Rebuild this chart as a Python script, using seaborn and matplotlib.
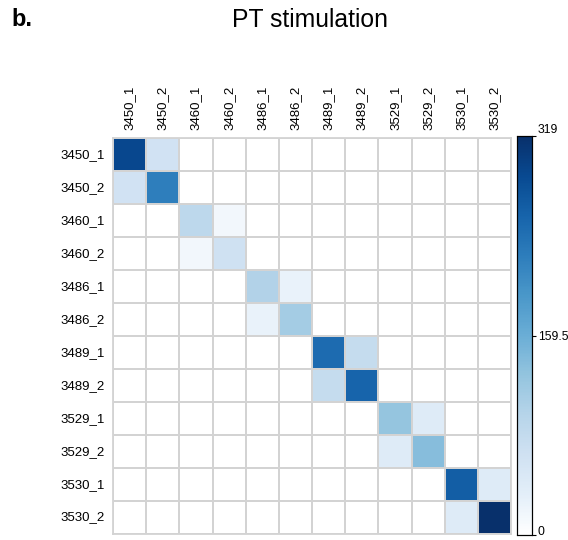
import numpy as np
import pandas as pd
import matplotlib
matplotlib.use("Agg")
import matplotlib.pyplot as plt
import matplotlib.transforms as mtransforms
from matplotlib.colors import LinearSegmentedColormap
import seaborn as sns

# === Data ===
samples = ["3450_1", "3450_2", "3460_1", "3460_2", "3486_1", "3486_2",
           "3489_1", "3489_2", "3529_1", "3529_2", "3530_1", "3530_2"]
# diagonal (self) values and replicate-pair overlap values
diag_values = [290, 222, 88, 66, 100, 113, 246, 255, 126, 138, 262, 319]
pair_values = [62, 16, 26, 78, 42, 42]
vmax = 319

n = len(samples)
mat = np.zeros((n, n))
for i in range(n):
    mat[i, i] = diag_values[i]
for k, v in enumerate(pair_values):
    mat[2 * k, 2 * k + 1] = v
    mat[2 * k + 1, 2 * k] = v
df = pd.DataFrame(mat, index=samples, columns=samples)

# white -> Blues
blues = plt.get_cmap("Blues")
cols = ["#ffffff"] + [blues(x) for x in np.linspace(0.1, 1.0, 10)]
cmap = LinearSegmentedColormap.from_list("wblues", cols)

# === Plot ===
sns.set_style("white")
plt.rcParams['font.family'] = ['Liberation Sans', 'DejaVu Sans']
plt.rcParams['text.color'] = 'black'
plt.rcParams['xtick.color'] = 'black'
plt.rcParams['ytick.color'] = 'black'

fig = plt.figure(figsize=(5.68, 5.40), dpi=100)
ax = fig.add_axes([0.199, 0.011, 0.701, 0.733])
cax = fig.add_axes([0.911, 0.009, 0.026, 0.739])

sns.heatmap(df, ax=ax, cbar_ax=cax, cmap=cmap, vmin=0, vmax=vmax,
            linewidths=1.3, linecolor="#d3d3d3", square=False,
            cbar_kws={"ticks": [0, vmax / 2, vmax]})

ax.xaxis.tick_top()
ax.set_xticklabels(samples, rotation=90, fontsize=9.5)
ax.set_yticklabels(samples, rotation=0, fontsize=9.5)
ax.tick_params(axis="both", length=0, pad=6)
ax.set_xlabel("")
ax.set_ylabel("")
for s in ax.spines.values():
    s.set_visible(True)
    s.set_color("#d3d3d3")
    s.set_linewidth(1.3)

cax.set_yticklabels(["0", "159.5", "319"])
cax.tick_params(labelsize=8.8, length=3, width=0.8, pad=1, colors="black")
for s in cax.spines.values():
    s.set_visible(True)
    s.set_color("black")
    s.set_linewidth(0.8)
cbar_labels = cax.get_yticklabels()
cbar_labels[-1].set_va("bottom")
# lift the "0" label a little so it stays inside the figure
lift = mtransforms.ScaledTranslation(0, 5 / 100, fig.dpi_scale_trans)
cbar_labels[0].set_transform(cbar_labels[0].get_transform() + lift)

fig.text(0.545, 0.963, "PT stimulation", ha="center", va="center", fontsize=17.8)
fig.text(0.02, 0.963, "b.", ha="left", va="center", fontsize=17, fontweight="bold")

fig.savefig("out.png", dpi=100)
